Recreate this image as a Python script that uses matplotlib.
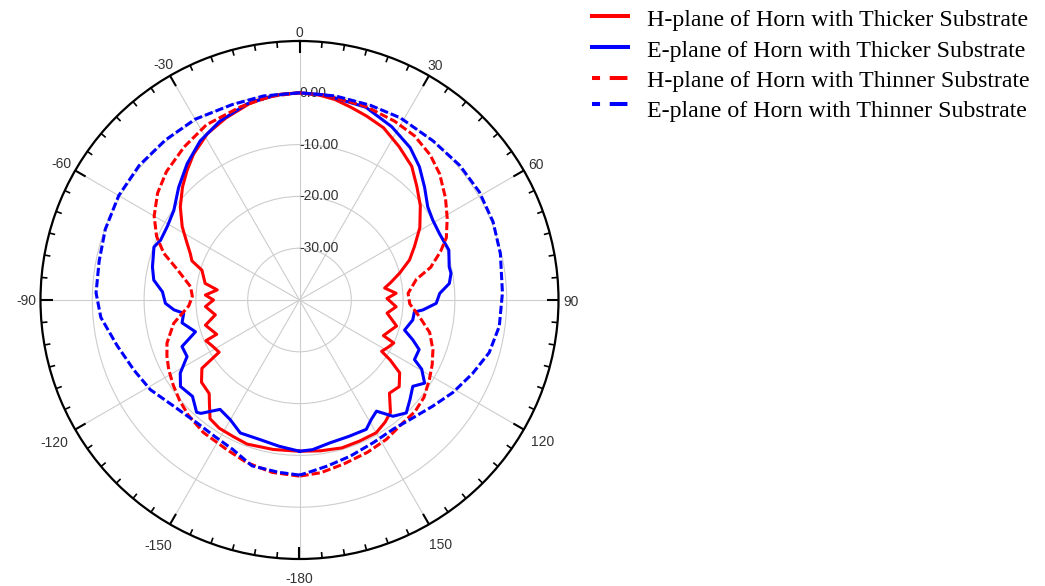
import numpy as np
import matplotlib
matplotlib.use("Agg")
import matplotlib.pyplot as plt
from matplotlib.lines import Line2D

# Radiation patterns: angle (deg) and normalised gain (dB)
h_thick_deg = [-180, -170, -160, -154, -148, -143, -139, -136, -130, -125, -123, -118, -113.5, -112.5,
               -105, -100, -94, -90, -87, -83, -80, -73, -70, -67, -63, -58, -52, -46, -41, -36, -29,
               -22, -13, -5, 0, 5, 10, 15, 20, 26, 33, 40, 46, 52, 59, 65, 70, 75, 79, 82, 86, 89, 94,
               98.5, 105, 109, 113, 114.5, 118, 122, 123.5, 126, 131, 136, 141, 145, 150, 157, 164,
               172, 180]
h_thick_db = [-10.8, -10.7, -10.4, -10.7, -10.8, -11.3, -13.5, -14.9, -15.3, -17.0, -21.5, -21.0,
              -20.3, -22.7, -21.2, -23.5, -21.8, -23.4, -21.8, -24.0, -21.5, -20.3, -17.9, -17.1,
              -15.6, -13.3, -10.8, -8.6, -6.9, -5.2, -3.3, -2.1, -0.6, -0.1, 0.0, -0.2, -0.7, -1.5,
              -2.2, -3.0, -4.7, -6.3, -8.5, -10.4, -12.9, -15.5, -17.4, -20.0, -22.0, -23.4, -21.3,
              -23.1, -21.3, -22.9, -20.6, -21.6, -22.4, -20.0, -20.6, -21.3, -19.0, -16.1, -14.5,
              -15.0, -12.1, -11.2, -10.4, -10.4, -10.3, -10.6, -10.8]

e_thick_deg = [-180, -172, -164, -156, -150, -144, -139, -137.5, -132, -126, -121.5, -116.7, -111.6,
               -107, -101, -96.5, -94.5, -91.4, -86.6, -82.2, -77.3, -70, -66.7, -61, -54.5, -47,
               -39.5, -32, -24, -15, -7, 0, 7, 19, 28, 36, 42, 48, 54, 59, 64.6, 71.5, 77.5, 80, 83.7,
               87.3, 91.4, 94.6, 96, 100, 106, 109.4, 112.5, 117.4, 119.5, 123.6, 127.3, 132, 136.6,
               141.2, 145.3, 149, 152.7, 160, 168, 175, 180]
e_thick_db = [-10.8, -11.5, -12.0, -11.9, -13.3, -13.9, -11.0, -10.6, -12.2, -11.6, -13.0, -15.7,
              -15.6, -19.0, -16.9, -17.5, -15.7, -14.1, -13.5, -11.6, -10.9, -10.1, -10.8, -10.8,
              -10.2, -8.1, -5.9, -3.8, -2.2, -0.8, -0.2, 0.0, -0.1, -0.65, -2.1, -3.65, -5.4, -7.5,
              -9.4, -10.0, -10.1, -9.6, -10.4, -10.3, -10.9, -12.9, -13.6, -16.1, -17.7, -17.8,
              -18.9, -16.8, -15.0, -15.0, -12.9, -11.0, -12.5, -11.3, -10.0, -11.2, -13.9, -13.1,
              -11.9, -12.0, -11.8, -11.0, -10.8]

h_thin_deg = [-180, -171, -162, -154, -144, -136, -130, -124, -118, -113, -108, -100.5, -93, -88,
              -83, -76, -71, -66, -60, -53, -46, -37, -28, -17, -8, 0, 8, 19, 28, 35, 42, 48, 55, 61,
              67, 71, 76, 80, 86.5, 92, 98, 104, 110.5, 116, 121.5, 128, 134, 140, 148, 156, 165,
              173, 180]
h_thin_db = [-6.0, -6.3, -7.0, -7.9, -8.4, -9.1, -9.8, -10.6, -11.4, -12.2, -13.1, -15.3, -18.6,
             -19.3, -18.8, -15.7, -12.3, -9.8, -7.6, -5.7, -4.3, -3.0, -1.7, -1.0, -0.3, 0.0, -0.2,
             -0.5, -0.9, -1.3, -2.3, -3.6, -5.6, -7.4, -9.2, -11.2, -13.9, -17.1, -19.0, -18.7,
             -16.6, -14.1, -12.5, -11.5, -10.6, -9.5, -9.0, -9.0, -8.3, -7.8, -7.2, -6.4, -6.0]

e_thin_deg = [-180, -173, -164, -156, -148, -140, -130, -121, -113, -104, -95, -88, -79, -70, -60,
              -50, -40, -30, -19, -10, 0, 10, 20, 29, 40, 50, 59, 68, 77, 88, 97.5, 105.5, 113, 121,
              128.5, 137.5, 144, 152.5, 162, 170.5, 177.5, 180]
e_thin_db = [-6.2, -6.5, -6.7, -8.4, -9.0, -9.1, -8.2, -6.4, -5.3, -3.7, -1.5, -0.7, -0.6, -0.1, 0.3,
             0.4, 0.3, 0.3, -0.1, 0.0, 0.0, 0.0, 0.0, 0.2, 0.1, 0.4, 0.5, 0.3, -0.2, -0.8, -1.1,
             -2.0, -3.7, -5.4, -7.1, -8.6, -9.2, -9.0, -8.3, -7.5, -6.6, -6.2]

series_labels = ["H-plane of Horn with Thicker Substrate",
                 "E-plane of Horn with Thicker Substrate",
                 "H-plane of Horn with Thinner Substrate",
                 "E-plane of Horn with Thinner Substrate"]

r_ticks = [-30, -20, -10, 0]
r_min, r_max = -40, 10
theta_label_values = [0, 30, 60, 90, 120, 150, -180, -150, -120, -90, -60, -30]

# ---- figure and polar axes ----
W, H, DPI = 1045, 586, 100
fig = plt.figure(figsize=(W / DPI, H / DPI), dpi=DPI)
cx, cy, R = 299.5, 300.0, 259.0          # centre and outer radius in pixels
px_per_db = R / (r_max - r_min)
ax = fig.add_axes([(cx - R) / W, (H - cy - R) / H, 2 * R / W, 2 * R / H], projection="polar")
ax.set_theta_zero_location("N")
ax.set_theta_direction(-1)
ax.set_rlim(r_min, r_max)

grid_color = "#cdcdcd"
ax.set_xticks(np.deg2rad(np.arange(0, 360, 30)))
ax.set_xticklabels([])
ax.set_rticks(r_ticks)
ax.set_yticklabels([])
ax.xaxis.grid(True, which="major", color=grid_color, lw=0.8)
ax.yaxis.grid(True, color=grid_color, lw=0.8)
ax.spines["polar"].set_linewidth(1.6)
ax.spines["polar"].set_color("black")

# inward rim ticks: long every 30 degrees, short every 5 degrees
major_deg = np.arange(-180, 180, 30)
minor_deg = np.array([a for a in range(-180, 180, 5) if a % 30 != 0])
ax.vlines(np.deg2rad(major_deg), r_max - 12 / px_per_db, r_max, color="black", lw=1.5,
          zorder=4, clip_on=False)
ax.vlines(np.deg2rad(minor_deg), r_max - 6 / px_per_db, r_max, color="black", lw=1.2,
          zorder=4, clip_on=False)

# ---- pattern curves ----
dash = (0, (2.7, 1.0))
curves = [
    (h_thick_deg, h_thick_db, "#ff0000", "-"),
    (e_thick_deg, e_thick_db, "#0000ff", "-"),
    (h_thin_deg, h_thin_db, "#ff0000", dash),
    (e_thin_deg, e_thin_db, "#0000ff", dash),
]
for (deg, db, color, ls), label in zip(curves, series_labels):
    ax.plot(np.deg2rad(deg), db, color=color, ls=ls, lw=2.2, label=label, zorder=3)

# ---- radial labels along the 0 degree spoke ----
for r in r_ticks:
    ax.text(0, r, f"{r:.2f}", ha="left", va="center", fontsize=10, color="#333333",
            family="Liberation Sans", zorder=2.5)

# ---- angle labels outside the rim ----
angle_texts = []
for a in theta_label_values:
    t = ax.text(np.deg2rad(a), r_max, str(a), ha="center", va="center_baseline", fontsize=10,
                color="#333333", family="Liberation Sans", clip_on=False)
    angle_texts.append((a, t))
fig.canvas.draw()
renderer = fig.canvas.get_renderer()
for a, t in angle_texts:
    bb = t.get_window_extent(renderer)
    th = np.deg2rad(a)
    gap = 4.5 + 9.0 * max(0.0, -np.cos(th))
    dist = R + gap + abs(np.sin(th)) * bb.width / 2 + abs(np.cos(th)) * 5.0
    t.set_position((th, r_min + dist / px_per_db))

# ---- legend ----
legend_x0, legend_x1, text_x = 591.7, 628.3, 646.7
handle_y = [15.5, 46.5, 77.5, 103.5]
text_baseline = [26.0, 56.5, 87.0, 117.5]
legend_dash = (2.4, (4.4, 2.4))
for (deg, db, color, ls), label, hy, ty in zip(curves, series_labels, handle_y, text_baseline):
    hls = "-" if ls == "-" else legend_dash
    fig.add_artist(Line2D([legend_x0 / W, legend_x1 / W], [1 - hy / H, 1 - hy / H],
                          transform=fig.transFigure, color=color, lw=2.9, ls=hls))
    fig.text(text_x / W, 1 - ty / H, label, ha="left", va="baseline", fontsize=17.2,
             family="Liberation Serif", color="black")

fig.savefig("out.png", dpi=DPI)
